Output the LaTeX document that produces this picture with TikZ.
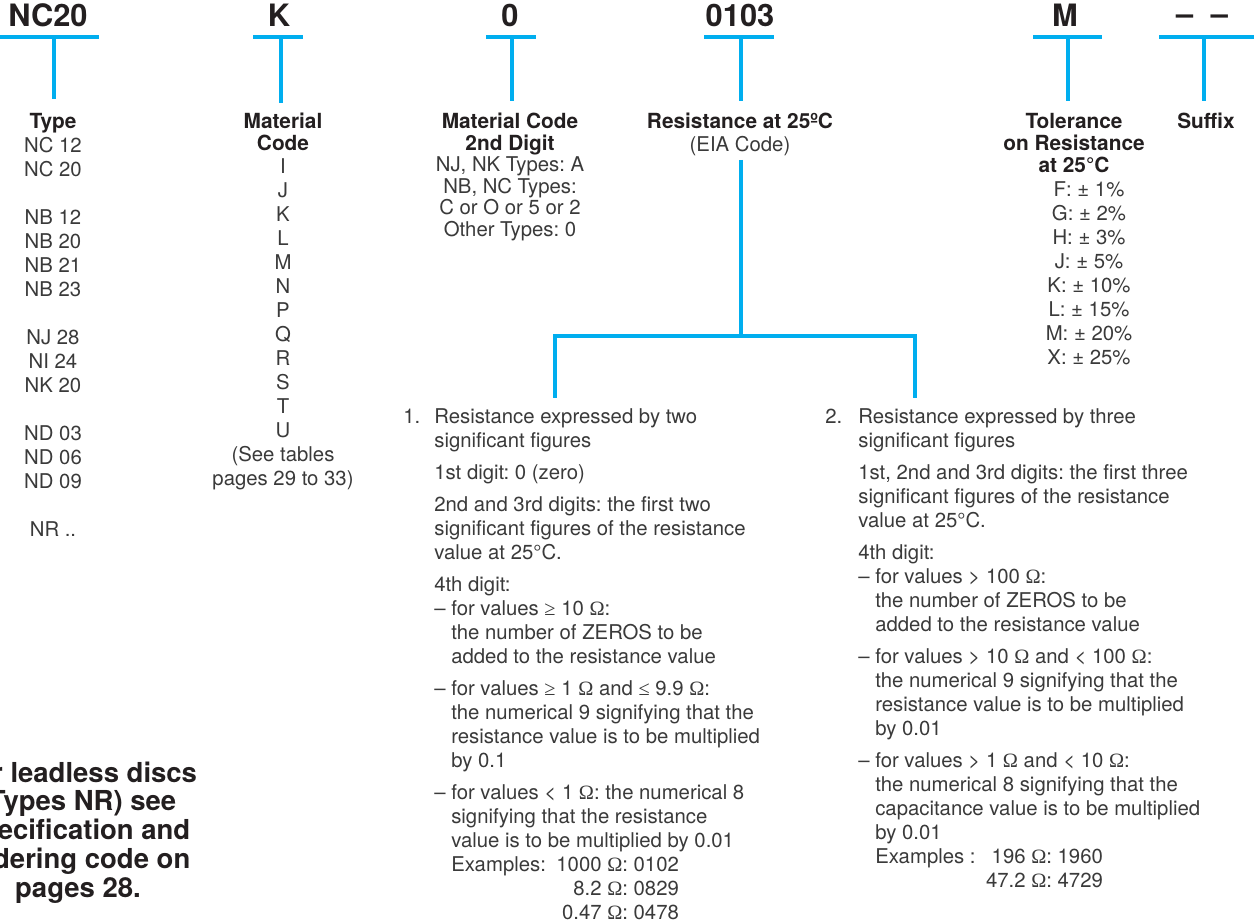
\documentclass[tikz,border=0pt]{standalone}
\usepackage{fontspec}
\setmainfont{TeX Gyre Heros}
\newfontfamily\symserif{Liberation Serif}
\frenchspacing
\definecolor{ink}{HTML}{231F20}
\definecolor{inklight}{HTML}{3A3A3A}
\definecolor{cyanbar}{HTML}{00AEEF}
\newlength\mypg \setlength\mypg{4.8pt}
\newlength\myblank \setlength\myblank{14.4pt}
\newcommand\myind{\hphantom{– }}
\newcommand\myOm{{\symserif Ω}}
\newcommand\myge{{\symserif ≥}}
\newcommand\myle{{\symserif ≤}}
\newcommand\colC[1]{\begin{tabular}[t]{@{}c@{}}#1\end{tabular}}
\newcommand\colL[1]{\begin{tabular}[t]{@{}l@{}}#1\end{tabular}}
\tikzset{
  codelabel/.style={font=\fontsize{18.5}{20}\selectfont\bfseries, text=ink, inner sep=0pt, anchor=base},
  headtext/.style={font=\fontsize{12.5}{12.8}\selectfont\bfseries, text=ink, inner sep=0pt, anchor=base},
  bodytext/.style={font=\fontsize{12.2}{14.4}\selectfont, text=inklight, inner sep=0pt, anchor=base},
  bodytight/.style={font=\fontsize{12.2}{12.84}\selectfont, text=inklight, inner sep=0pt, anchor=base},
  blocktext/.style={font=\fontsize{12.2}{14.4}\selectfont, text=inklight, inner sep=0pt, anchor=base west},
  notetext/.style={font=\fontsize{16.5}{17.2}\selectfont\bfseries, text=ink, inner sep=0pt, anchor=base},
  bar/.style={draw=cyanbar, line width=2.2pt},
}
\begin{document}
\begin{tikzpicture}[x=0.6pt,y=-0.6pt]
\useasboundingbox (0,0) rectangle (1254,924);
\fill[white] (0,0) rectangle (1254,924);

% code letters
\node[codelabel] (cType) at (48,27) {NC20};
\node[codelabel] (cMat) at (279,27) {K};
\node[codelabel] (cMat2) at (510,27) {0};
\node[codelabel] (cRes) at (740,27) {0103};
\node[codelabel] (cTol) at (1065,27) {M};
\node[codelabel] (cSuf) at (1202,25) {– \hspace{5.4pt}–};

% bars
\coordinate (aL) at (0,37);   \coordinate (aR) at (99,37);
\coordinate (aT) at (54,37);  \coordinate (aB) at (54,99);
\coordinate (bL) at (253,37); \coordinate (bR) at (303,37);
\coordinate (bT) at (281,37); \coordinate (bB) at (281,103);
\coordinate (cL) at (486,37); \coordinate (cR) at (536,37);
\coordinate (cT) at (512,37); \coordinate (cB) at (512,101);
\coordinate (dL) at (704,37); \coordinate (dR) at (774,37);
\coordinate (dT) at (741,37); \coordinate (dB) at (741,101);
\coordinate (eL) at (1033,37); \coordinate (eR) at (1102,37);
\coordinate (eT) at (1068,37); \coordinate (eB) at (1068,101);
\coordinate (fL) at (1159,37); \coordinate (fR) at (1254,37);
\coordinate (fT) at (1204,37); \coordinate (fB) at (1204,101);
\foreach \p in {a,b,c,d,e,f}{
  \draw[bar] (\p L) -- (\p R);
  \draw[bar] (\p T) -- (\p B);
}

% headers
\node[headtext] (hType) at (53,129) {Type};
\node[headtext] (hMat) at (283,129) {\colC{Material\\Code}};
\node[headtext] (hMat2) at (510,129) {\colC{Material Code\\2nd Digit}};
\node[headtext] (hRes) at (740,129) {Resistance at 25ºC};
\node[bodytext] (hResSub) at (740,152) {(EIA Code)};
\node[headtext] (hTol) at (1074,129) {\colC{Tolerance\\on Resistance\\at 25°C}};
\node[headtext] (hSuf) at (1206,129) {Suffix};

% lists
\node[bodytext] (lType) at (53,153) {\colC{NC 12\\NC 20\\[\myblank]NB 12\\NB 20\\NB 21\\NB 23\\[\myblank]NJ 28\\NI 24\\NK 20\\[\myblank]ND 03\\ND 06\\ND 09\\[\myblank]NR ..}};
\node[bodytext] (lMat) at (283,174) {\colC{I\\J\\K\\L\\M\\N\\P\\Q\\R\\S\\T\\U\\(See tables\\pages 29 to 33)}};
\node[bodytight] (lMat2) at (510,171.7) {\colC{NJ, NK Types: A\\NB, NC Types:\\C or O or 5 or 2\\Other Types: 0}};
\node[bodytext] (lTol) at (1089,197) {\colC{F: ± 1\%\\G: ± 2\%\\H: ± 3\%\\J: ± 5\%\\K: ± 10\%\\L: ± 15\%\\M: ± 20\%\\X: ± 25\%}};

% resistance tree
\coordinate (r0) at (741,160);
\coordinate (rj) at (741,336);
\coordinate (rl) at (555,336);
\coordinate (rr) at (915,336);
\coordinate (rl2) at (555,398);
\coordinate (rr2) at (915,398);
\draw[bar] (r0) -- (rj);
\draw[bar] (rl2) -- (rl) -- (rr) -- (rr2);

% block 1
\node[blocktext] (n1) at (403,424) {1.};
\node[blocktext] (b1) at (434,424) {\colL{Resistance expressed by two\\
significant figures\\[\mypg]
1st digit: 0 (zero)\\[\mypg]
2nd and 3rd digits: the first two\\
significant figures of the resistance\\
value at 25°C.\\[\mypg]
4th digit:\\
– for values \myge\ 10 \myOm:\\
\myind the number of ZEROS to be\\
\myind added to the resistance value\\[\mypg]
– for values \myge\ 1 \myOm\ and \myle\ 9.9 \myOm:\\
\myind the numerical 9 signifying that the\\
\myind resistance value is to be multiplied\\
\myind by 0.1\\[\mypg]
– for values < 1 \myOm: the numerical 8\\
\myind signifying that the resistance\\
\myind value is to be multiplied by 0.01\\
\myind\rlap{Examples:}\makebox[93.6pt][r]{1000\ }\myOm: 0102\\
\myind\makebox[93.6pt][r]{8.2\ }\myOm: 0829\\
\myind\makebox[93.6pt][r]{0.47\ }\myOm: 0478}};

% block 2
\node[blocktext] (n2) at (825,424) {2.};
\node[blocktext] (b2) at (858,424) {\colL{Resistance expressed by three\\
significant figures\\[\mypg]
1st, 2nd and 3rd digits: the first three\\
significant figures of the resistance\\
value at 25°C.\\[\mypg]
4th digit:\\
– for values > 100 \myOm:\\
\myind the number of ZEROS to be\\
\myind added to the resistance value\\[\mypg]
– for values > 10 \myOm\ and < 100 \myOm:\\
\myind the numerical 9 signifying that the\\
\myind resistance value is to be multiplied\\
\myind by 0.01\\[\mypg]
– for values > 1 \myOm\ and < 10 \myOm:\\
\myind the numerical 8 signifying that the\\
\myind capacitance value is to be multiplied\\
\myind by 0.01\\
\myind\rlap{Examples :}\makebox[93.6pt][r]{196\ }\myOm: 1960\\
\myind\makebox[93.6pt][r]{47.2\ }\myOm: 4729}};

% note (cut at the left edge)
\begin{scope}
\clip (0,0) rectangle (400,924);
\node[notetext] (note) at (78,782) {\colC{For leadless discs\\(Types NR) see\\specification and\\ordering code on\\pages 28.}};
\end{scope}
\end{tikzpicture}
\end{document}
